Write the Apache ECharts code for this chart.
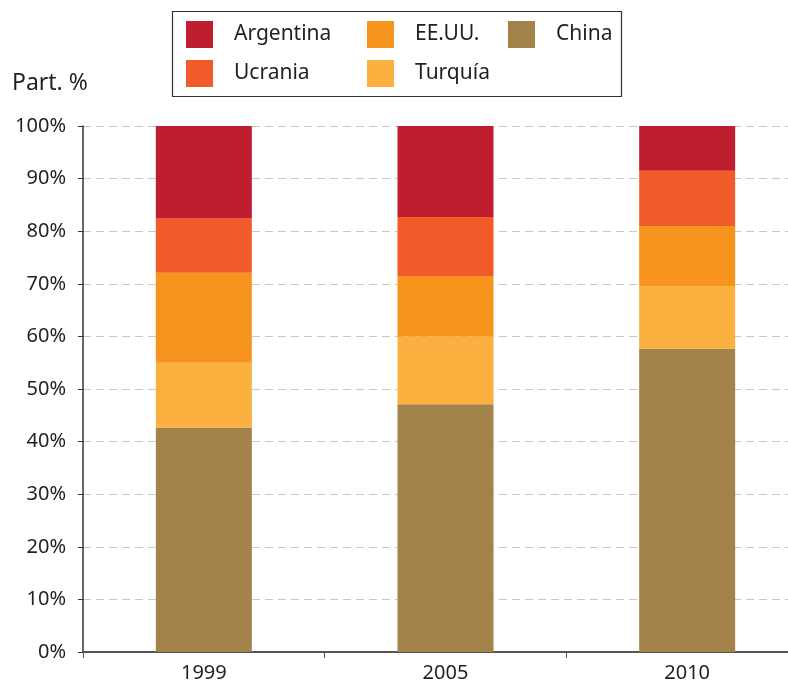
<!DOCTYPE html>
<html>
<head>
<meta charset="utf-8">
<script src="https://cdn.jsdelivr.net/npm/echarts@6/dist/echarts.min.js"></script>
<style>html,body{margin:0;padding:0;background:#fff;overflow:hidden}#c{width:808px;height:683px}</style>
</head>
<body>
<div id="c"></div>
<script>
const categories = ['1999', '2005', '2010'];
const china = [42.7, 47.1, 57.7];
const turquia = [12.3, 12.9, 11.9];
const eeuu = [17.1, 11.5, 11.4];
const ucrania = [10.3, 11.2, 10.5];
const argentina = [17.6, 17.3, 8.5];
const yTicks = [0, 10, 20, 30, 40, 50, 60, 70, 80, 90, 100];

const FONT = 'Noto Sans';
const chart = echarts.init(document.getElementById('c'));
const mk = (name, data, color) => ({
  name, type: 'bar', stack: 'total', data, barWidth: 96,
  itemStyle: { color }, emphasis: { disabled: true }
});
const legendText = { fontFamily: FONT, fontSize: 21, color: '#231f20', padding: [0, 0, 0, 16] };
const legBase = { orient: 'vertical', top: 16, itemWidth: 27, itemHeight: 27, itemGap: 12, icon: 'rect', textStyle: legendText, selectedMode: false };
chart.setOption({
  animation: false,
  textStyle: { fontFamily: FONT },
  title: { text: 'Part. %', left: 7, top: 67, textStyle: { fontFamily: FONT, fontSize: 23, fontWeight: 'normal', color: '#231f20' } },
  graphic: [{ type: 'rect', shape: { x: 172.5, y: 11.5, width: 449, height: 85 }, style: { fill: 'none', stroke: '#333', lineWidth: 1.2 }, z: -1 }],
  legend: [
    Object.assign({}, legBase, { left: 181, data: ['Argentina', 'Ucrania'] }),
    Object.assign({}, legBase, { left: 362, data: ['EE.UU.', 'Turquía'] }),
    Object.assign({}, legBase, { left: 503, data: ['China'] })
  ],
  grid: { left: 83, top: 126, bottom: 30, right: 0, containLabel: false },
  xAxis: {
    type: 'category', data: categories,
    axisLine: { lineStyle: { color: '#555', width: 2 } },
    axisTick: { show: true, length: 6, lineStyle: { color: '#555' } },
    axisLabel: { fontFamily: FONT, fontSize: 20, color: '#231f20', margin: 11 }
  },
  yAxis: {
    type: 'value', min: 0, max: 100, interval: 10,
    axisLine: { show: true, lineStyle: { color: '#333', width: 1.5 } },
    axisTick: { show: true, length: 5, lineStyle: { color: '#333' } },
    axisLabel: { fontFamily: FONT, fontSize: 20, color: '#231f20', margin: 17, formatter: v => yTicks.includes(v) ? v + '%' : '' },
    splitLine: { show: true, lineStyle: { color: '#c8c8c8', type: [8, 5], width: 1.2 } }
  },
  series: [
    mk('China', china, '#a3834a'),
    mk('Turquía', turquia, '#fbb040'),
    mk('EE.UU.', eeuu, '#f7941d'),
    mk('Ucrania', ucrania, '#f15a29'),
    mk('Argentina', argentina, '#be1e2d')
  ]
});
</script>
</body>
</html>
